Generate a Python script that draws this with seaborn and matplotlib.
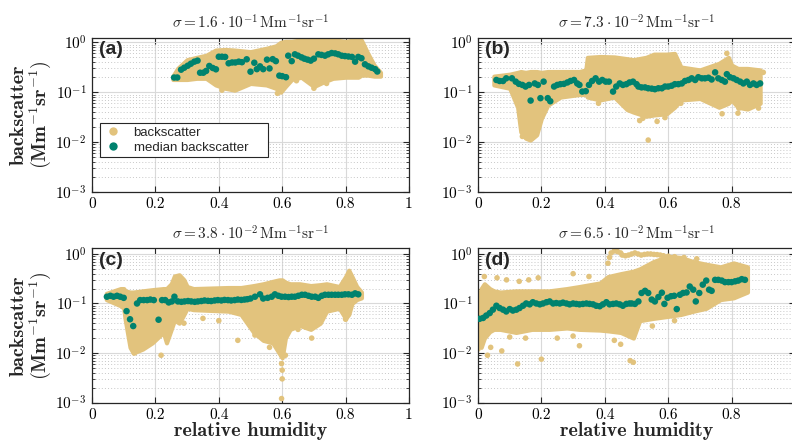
import numpy as np
import matplotlib
import matplotlib.pyplot as plt
import seaborn as sns
from matplotlib.lines import Line2D
from matplotlib.ticker import LogLocator, NullFormatter

# ---- data ----
# (a)
med_rh_a = [0.259, 0.269, 0.281, 0.291, 0.302, 0.312, 0.323, 0.333, 0.341, 0.351, 0.36, 0.37, 0.381,
            0.391, 0.40, 0.41, 0.42, 0.431, 0.442, 0.452, 0.463, 0.473, 0.488, 0.50, 0.512, 0.52, 0.53,
            0.54, 0.552, 0.56, 0.57, 0.58, 0.591, 0.60, 0.612, 0.619, 0.63, 0.64, 0.65, 0.661, 0.67,
            0.68, 0.69, 0.70, 0.714, 0.724, 0.735, 0.745, 0.756, 0.767, 0.777, 0.788, 0.798, 0.809,
            0.82, 0.83, 0.84, 0.85, 0.861, 0.872, 0.882, 0.893, 0.90]
med_bs_a = [0.197, 0.197, 0.283, 0.31, 0.34, 0.373, 0.41, 0.43, 0.246, 0.246, 0.267, 0.336, 0.306,
            0.288, 0.515, 0.515, 0.51, 0.38, 0.395, 0.395, 0.41, 0.40, 0.457, 0.258, 0.39, 0.29, 0.33,
            0.29, 0.45, 0.30, 0.46, 0.42, 0.215, 0.21, 0.20, 0.54, 0.42, 0.575, 0.54, 0.50, 0.47,
            0.45, 0.43, 0.47, 0.575, 0.56, 0.54, 0.575, 0.61, 0.60, 0.575, 0.54, 0.53, 0.52,
            0.51, 0.41, 0.51, 0.48, 0.363, 0.33, 0.31, 0.29, 0.26]
env_rh_a = [0.255, 0.27, 0.30, 0.33, 0.36, 0.39, 0.42, 0.45, 0.50, 0.55, 0.58, 0.595, 0.61, 0.63,
            0.66, 0.70, 0.73, 0.76, 0.80, 0.84, 0.85, 0.87, 0.89, 0.91]
env_hi_a = [0.21, 0.30, 0.45, 0.50, 0.55, 0.70, 0.72, 0.70, 0.65, 0.76, 0.85, 1.0, 1.05, 1.05,
            1.12, 1.15, 1.15, 1.12, 1.05, 1.15, 1.10, 0.60, 0.35, 0.25]
env_lo_a = [0.18, 0.18, 0.18, 0.19, 0.19, 0.14, 0.12, 0.11, 0.15, 0.14, 0.12, 0.10, 0.13, 0.18,
            0.20, 0.13, 0.16, 0.19, 0.20, 0.20, 0.22, 0.22, 0.21, 0.21]
out_rh_a = [0.41, 0.585, 0.70, 0.74, 0.905, 0.645]
out_bs_a = [0.11, 0.095, 0.12, 0.15, 0.22, 0.17]

# (b)
med_rh_b = [0.058, 0.068, 0.079, 0.089, 0.107, 0.119, 0.129, 0.14, 0.15, 0.161, 0.166, 0.179, 0.189,
            0.197, 0.207, 0.22, 0.228, 0.24, 0.25, 0.26, 0.271, 0.282, 0.292, 0.303, 0.313, 0.32,
            0.329, 0.34, 0.35, 0.36, 0.371, 0.382, 0.392, 0.403, 0.413, 0.426, 0.436, 0.447, 0.457,
            0.468, 0.478, 0.489, 0.50, 0.506, 0.516, 0.527, 0.537, 0.548, 0.558, 0.569, 0.58, 0.59,
            0.60, 0.611, 0.621, 0.632, 0.643, 0.653, 0.664, 0.674, 0.685, 0.695, 0.706, 0.716, 0.727,
            0.737, 0.748, 0.758, 0.769, 0.779, 0.785, 0.795, 0.806, 0.816, 0.827, 0.837, 0.848,
            0.858, 0.869, 0.879, 0.89]
med_bs_b = [0.176, 0.168, 0.168, 0.19, 0.19, 0.163, 0.147, 0.14, 0.13, 0.14, 0.068, 0.15, 0.14,
            0.076, 0.163, 0.076, 0.066, 0.13, 0.14, 0.145, 0.147, 0.157, 0.168, 0.176, 0.15, 0.14,
            0.103, 0.105, 0.14, 0.168, 0.19, 0.163, 0.176, 0.163, 0.163, 0.103, 0.13, 0.15, 0.14,
            0.145, 0.157, 0.163, 0.145, 0.13, 0.125, 0.125, 0.12, 0.118, 0.115, 0.12, 0.12, 0.13,
            0.13, 0.135, 0.145, 0.145, 0.15, 0.168, 0.176, 0.19, 0.176, 0.20, 0.19, 0.19, 0.195,
            0.18, 0.25, 0.19, 0.176, 0.163, 0.23, 0.20, 0.19, 0.176, 0.163, 0.15, 0.163,
            0.14, 0.15, 0.14, 0.15]
env_rh_b = [0.05, 0.10, 0.125, 0.135, 0.15, 0.165, 0.185, 0.20, 0.22, 0.26, 0.32, 0.34, 0.345,
            0.385, 0.43, 0.47, 0.49, 0.53, 0.555, 0.595, 0.62, 0.64, 0.70, 0.76, 0.79, 0.80, 0.82,
            0.85, 0.89]
env_hi_b = [0.21, 0.23, 0.25, 0.26, 0.25, 0.26, 0.26, 0.25, 0.26, 0.26, 0.26, 0.28, 0.50,
            0.52, 0.51, 0.47, 0.45, 0.50, 0.58, 0.58, 0.60, 0.32, 0.28, 0.38, 0.50, 0.35, 0.30,
            0.30, 0.28]
env_lo_b = [0.14, 0.12, 0.05, 0.016, 0.012, 0.011, 0.014, 0.03, 0.055, 0.08, 0.09, 0.09, 0.08,
            0.07, 0.08, 0.045, 0.04, 0.033, 0.035, 0.037, 0.05, 0.07, 0.075, 0.05, 0.06, 0.07, 0.05,
            0.046, 0.06]
out_rh_b = [0.537, 0.51, 0.565, 0.52, 0.77, 0.823, 0.885, 0.785, 0.38, 0.14, 0.17, 0.86, 0.87,
            0.88, 0.89, 0.90, 0.59, 0.64, 0.82]
out_bs_b = [0.011, 0.027, 0.026, 0.030, 0.037, 0.048, 0.048, 0.60, 0.06, 0.013, 0.012, 0.25, 0.25,
            0.25, 0.25, 0.25, 0.031, 0.06, 0.038]

# (c)
med_rh_c = [0.047, 0.058, 0.068, 0.079, 0.089, 0.10, 0.109, 0.12, 0.13, 0.142, 0.152, 0.163, 0.174,
            0.184, 0.195, 0.21, 0.221, 0.231, 0.242, 0.252, 0.26, 0.271, 0.282, 0.292, 0.303, 0.313,
            0.324, 0.334, 0.345, 0.355, 0.366, 0.376, 0.387, 0.397, 0.408, 0.418, 0.429, 0.439, 0.45,
            0.46, 0.471, 0.481, 0.49, 0.50, 0.514, 0.53, 0.54, 0.554, 0.567, 0.577, 0.588, 0.598,
            0.609, 0.62, 0.63, 0.64, 0.651, 0.662, 0.672, 0.683, 0.693, 0.704, 0.714, 0.725, 0.735,
            0.746, 0.756, 0.767, 0.777, 0.788, 0.798, 0.809, 0.82, 0.83, 0.84]
med_bs_c = [0.137, 0.143, 0.137, 0.143, 0.137, 0.13, 0.07, 0.048, 0.035, 0.10, 0.117, 0.117, 0.117,
            0.12, 0.117, 0.047, 0.117, 0.117, 0.105, 0.11, 0.137, 0.11, 0.108, 0.11, 0.112, 0.11,
            0.108, 0.11, 0.112, 0.115, 0.113, 0.112, 0.115, 0.117, 0.115, 0.118, 0.117, 0.115, 0.117,
            0.12, 0.118, 0.12, 0.122, 0.126, 0.137, 0.153, 0.126, 0.13, 0.137, 0.153, 0.143, 0.137,
            0.137, 0.135, 0.137, 0.137, 0.143, 0.15, 0.15, 0.143, 0.137, 0.137, 0.13, 0.143, 0.15,
            0.15, 0.15, 0.15, 0.15, 0.15, 0.153, 0.153, 0.15, 0.16, 0.153]
env_rh_c = [0.045, 0.09, 0.10, 0.105, 0.12, 0.13, 0.16, 0.19, 0.225, 0.235, 0.25, 0.26, 0.275,
            0.29, 0.30, 0.32, 0.43, 0.47, 0.51, 0.54, 0.57, 0.59, 0.60, 0.61, 0.625, 0.655, 0.69,
            0.72, 0.74, 0.78, 0.80, 0.81, 0.82, 0.835, 0.85]
env_hi_c = [0.16, 0.20, 0.20, 0.18, 0.17, 0.17, 0.18, 0.19, 0.20, 0.20, 0.25, 0.36, 0.38,
            0.30, 0.22, 0.20, 0.21, 0.21, 0.23, 0.25, 0.28, 0.30, 0.30, 0.27, 0.25, 0.25, 0.23,
            0.24, 0.25, 0.22, 0.35, 0.47, 0.35, 0.22, 0.17]
env_lo_c = [0.12, 0.09, 0.08, 0.046, 0.013, 0.010, 0.012, 0.016, 0.026, 0.016, 0.03, 0.046, 0.04,
            0.06, 0.08, 0.075, 0.07, 0.06, 0.026, 0.018, 0.016, 0.010, 0.008, 0.02, 0.03, 0.036, 0.03,
            0.04, 0.07, 0.08, 0.05, 0.06, 0.10, 0.12, 0.13]
out_rh_c = [0.598, 0.60, 0.60, 0.598, 0.60, 0.514, 0.46, 0.56, 0.693, 0.218, 0.17, 0.134, 0.80,
            0.29, 0.59, 0.61, 0.80, 0.35, 0.40, 0.65]
out_bs_c = [0.0061, 0.0045, 0.003, 0.0012, 0.0085, 0.023, 0.018, 0.013, 0.02, 0.009, 0.017, 0.010,
            0.048, 0.04, 0.012, 0.009, 0.055, 0.05, 0.045, 0.03]

# (d)
med_rh_d = [0.005, 0.016, 0.026, 0.037, 0.047, 0.058, 0.068, 0.079, 0.089, 0.10, 0.11, 0.121, 0.131,
            0.142, 0.152, 0.163, 0.173, 0.184, 0.195, 0.205, 0.216, 0.226, 0.237, 0.247, 0.258,
            0.268, 0.279, 0.289, 0.30, 0.31, 0.32, 0.331, 0.342, 0.352, 0.363, 0.373, 0.384, 0.394,
            0.405, 0.415, 0.426, 0.436, 0.447, 0.457, 0.468, 0.478, 0.485, 0.495, 0.506, 0.516,
            0.527, 0.537, 0.548, 0.558, 0.569, 0.58, 0.588, 0.598, 0.609, 0.619, 0.627, 0.637,
            0.647, 0.658, 0.668, 0.679, 0.687, 0.698, 0.709, 0.72, 0.729, 0.737, 0.748, 0.758,
            0.769, 0.779, 0.79, 0.80, 0.811, 0.821, 0.832, 0.842]
med_bs_d = [0.049, 0.051, 0.057, 0.064, 0.075, 0.09, 0.081, 0.075, 0.069, 0.077, 0.072, 0.075, 0.081,
            0.09, 0.10, 0.096, 0.106, 0.10, 0.096, 0.10, 0.106, 0.11, 0.10, 0.102, 0.10,
            0.104, 0.10, 0.096, 0.10, 0.098, 0.096, 0.098, 0.10, 0.098, 0.096, 0.09, 0.088, 0.096,
            0.106, 0.096, 0.098, 0.10, 0.096, 0.09, 0.098, 0.10, 0.10, 0.098, 0.11, 0.163,
            0.18, 0.163, 0.12, 0.11, 0.135, 0.165, 0.098, 0.13, 0.14, 0.143, 0.077, 0.15,
            0.163, 0.167, 0.22, 0.19, 0.11, 0.163, 0.24, 0.29, 0.19, 0.18, 0.30, 0.30,
            0.29, 0.27, 0.27, 0.27, 0.28, 0.29, 0.31, 0.30]
env_rh_d = [0.0, 0.01, 0.02, 0.037, 0.05, 0.07, 0.12, 0.17, 0.225, 0.28, 0.32, 0.385, 0.41, 0.45,
            0.49, 0.51, 0.553, 0.60, 0.64, 0.68, 0.72, 0.765, 0.806, 0.85]
env_hi_d = [0.12, 0.20, 0.25, 0.20, 0.18, 0.17, 0.18, 0.18, 0.18, 0.20, 0.22, 0.26, 0.35, 0.40,
            0.45, 0.50, 0.70, 0.90, 0.85, 0.70, 0.62, 0.55, 0.66, 0.55]
env_lo_d = [0.018, 0.013, 0.02, 0.027, 0.03, 0.03, 0.026, 0.03, 0.03, 0.032, 0.03, 0.029, 0.028,
            0.026, 0.02, 0.045, 0.05, 0.055, 0.06, 0.07, 0.08, 0.12, 0.13, 0.17]
out_rh_d = [0.0, 0.03, 0.04, 0.075, 0.125, 0.20, 0.32, 0.48, 0.49, 0.10, 0.15, 0.25, 0.30, 0.43,
            0.45, 0.02, 0.06, 0.09, 0.13, 0.16, 0.19, 0.30, 0.35, 0.55, 0.62,
            0.41, 0.415, 0.42, 0.43, 0.44, 0.45, 0.455, 0.465, 0.475, 0.485, 0.495, 0.505, 0.515,
            0.525, 0.535, 0.545, 0.555, 0.565, 0.575, 0.585, 0.60, 0.62, 0.65, 0.69]
out_bs_d = [0.012, 0.009, 0.013, 0.011, 0.006, 0.0075, 0.014, 0.007, 0.0065, 0.021, 0.02, 0.02,
            0.022, 0.018, 0.015, 0.35, 0.33, 0.30, 0.28, 0.30, 0.33, 0.40, 0.35, 0.035, 0.045,
            0.65, 0.85, 1.05, 1.15, 1.12, 1.05, 0.95, 0.92, 0.95, 1.0, 1.05, 1.0, 0.95,
            0.98, 1.0, 1.0, 0.98, 0.97, 0.95, 0.92, 0.90, 0.88, 0.85, 0.80]

titles = [r"$\sigma = 1.6 \cdot 10^{-1}\,\mathrm{Mm}^{-1}\mathrm{sr}^{-1}$",
          r"$\sigma = 7.3 \cdot 10^{-2}\,\mathrm{Mm}^{-1}\mathrm{sr}^{-1}$",
          r"$\sigma = 3.8 \cdot 10^{-2}\,\mathrm{Mm}^{-1}\mathrm{sr}^{-1}$",
          r"$\sigma = 6.5 \cdot 10^{-2}\,\mathrm{Mm}^{-1}\mathrm{sr}^{-1}$"]
panel_tags = ["(a)", "(b)", "(c)", "(d)"]
xtick_vals = [0, 0.2, 0.4, 0.6, 0.8, 1.0]
xtick_text = ["0", "0.2", "0.4", "0.6", "0.8", "1"]

tan = "#e2c37d"
teal = "#00826e"

sns.set_theme(style="white")
plt.rcParams.update({'font.family': 'cmr10'})
plt.rcParams.update({'mathtext.fontset': 'cm'})
plt.rcParams.update({'axes.formatter.use_mathtext': True})
plt.rcParams.update({'axes.unicode_minus': False})

fig = plt.figure(figsize=(7.92, 4.45), dpi=100)
W, H = 792, 445
# axes boxes in pixels: left, top, width, height
boxes = [(92, 37.5, 317, 154.5), (478, 37.5, 317, 154.5),
         (92, 248, 317, 154.5), (478, 248, 317, 154.5)]
ytops = [1.25, 1.25, 1.32, 1.32]

panels = [(med_rh_a, med_bs_a, env_rh_a, env_lo_a, env_hi_a, out_rh_a, out_bs_a),
          (med_rh_b, med_bs_b, env_rh_b, env_lo_b, env_hi_b, out_rh_b, out_bs_b),
          (med_rh_c, med_bs_c, env_rh_c, env_lo_c, env_hi_c, out_rh_c, out_bs_c),
          (med_rh_d, med_bs_d, env_rh_d, env_lo_d, env_hi_d, out_rh_d, out_bs_d)]

for i, (box, data) in enumerate(zip(boxes, panels)):
    l, t, w, h = box
    ax = fig.add_axes([l / W, (H - t - h) / H, w / W, h / H])
    mrh, mbs, erh, elo, ehi, orh, obs = data

    # dense cloud of backscatter points
    ax.fill_between(erh, elo, ehi, color=tan, edgecolor=tan, lw=3, joinstyle='round', zorder=2)
    sns.scatterplot(x=orh, y=obs, ax=ax, color=tan, s=16, edgecolor='none', linewidth=0, zorder=2)
    sns.scatterplot(x=mrh, y=mbs, ax=ax, color=teal, s=22, edgecolor='none', linewidth=0, zorder=3)

    ax.set_yscale('log')
    ax.set_xlim(0, 1)
    ax.set_ylim(1e-3, ytops[i])
    ax.set_xticks(xtick_vals)
    if i % 2 == 0:
        ax.set_xticklabels(xtick_text)
    else:
        ax.set_xticklabels(xtick_text[:-1] + [""])
    ax.yaxis.set_major_locator(LogLocator(base=10, numticks=10))
    ax.yaxis.set_minor_locator(LogLocator(base=10, subs=np.arange(2, 10), numticks=20))
    ax.yaxis.set_minor_formatter(NullFormatter())

    ax.grid(True, which='major', color='#d9d9d9', lw=0.8, ls='-', zorder=0)
    ax.grid(True, which='minor', axis='y', color='#c8c8c8', lw=0.7, ls=(0, (1, 2.2)), zorder=0)
    ax.set_axisbelow(True)

    ax.tick_params(which='both', direction='in', top=True, right=True, bottom=True, left=True,
                   colors='#262626', labelcolor='black')
    ax.tick_params(which='major', length=4, width=0.8, labelsize=11, pad=4)
    ax.tick_params(which='minor', length=2, width=0.6)
    for sp in ax.spines.values():
        sp.set_color('#262626')
        sp.set_linewidth(0.9)

    ax.set_title(titles[i], fontsize=11, pad=6)
    ax.text(0.022, 0.975, panel_tags[i], transform=ax.transAxes, ha='left', va='top',
            fontsize=14, fontweight='bold', family='Liberation Sans', zorder=5)

    ax.set_xlabel("")
    ax.set_ylabel("")
    if i % 2 == 0:
        ax.set_ylabel("backscatter\n" + r"$\mathbf{(Mm}^{-1}\mathbf{sr}^{-1}\mathbf{)}$",
                      fontsize=14.5, family='cmb10', linespacing=1.0)
        ax.yaxis.set_label_coords(-0.122, 0.5)
    if i >= 2:
        ax.set_xlabel("relative humidity", fontsize=14.5, family='cmb10', labelpad=0)

    if i == 0:
        handles = [Line2D([], [], ls='none', marker='o', ms=6, mfc=tan, mec='none'),
                   Line2D([], [], ls='none', marker='o', ms=6, mfc=teal, mec='none')]
        leg = ax.legend(handles, ["backscatter", "median backscatter"], loc='lower left',
                        bbox_to_anchor=(0.025, 0.226, 0.53, 0.22), mode='expand', borderaxespad=0,
                        fancybox=False, framealpha=1, edgecolor='#262626',
                        prop={'family': 'Liberation Sans', 'size': 9.5},
                        handletextpad=0.8, borderpad=0.25, labelspacing=0.2, handlelength=1.5)
        leg.get_frame().set_linewidth(0.8)
        leg.set_zorder(6)

fig.savefig("out.png", dpi=100)
